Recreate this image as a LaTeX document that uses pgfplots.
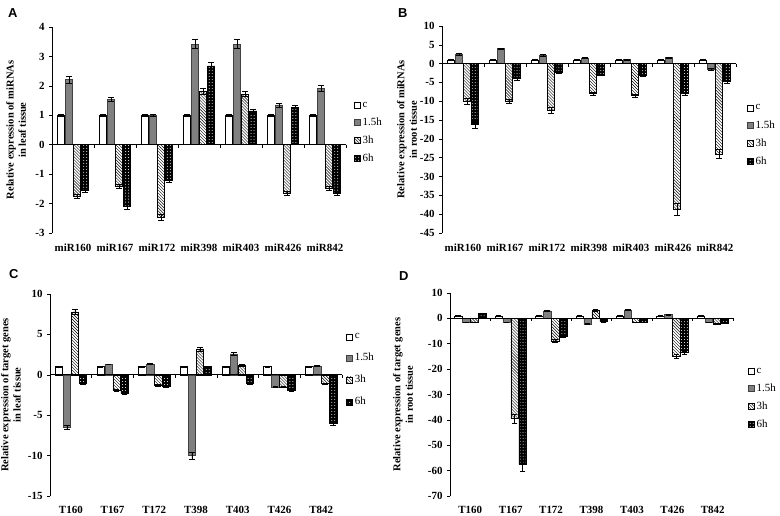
\documentclass[border=0pt]{standalone}
\usepackage{pgfplots}
\pgfplotsset{compat=1.18}
\usepackage{pgfplotstable}
\usepackage{fontspec}
\setmainfont{Liberation Serif}
\newfontfamily\panelfont{Liberation Sans}
\usetikzlibrary{patterns}

\pgfplotstableread{
x c ce a ae b be d de
0 1 0.04 2.22 0.12 -1.75 0.07 -1.55 0.06
1 1 0.04 1.55 0.07 -1.40 0.07 -2.10 0.09
2 1 0.04 1.00 0.03 -2.45 0.10 -1.22 0.05
3 1 0.04 3.42 0.15 1.82 0.09 2.68 0.13
4 1 0.04 3.42 0.15 1.72 0.08 1.15 0.06
5 1 0.04 1.35 0.07 -1.65 0.07 1.28 0.05
6 1 0.04 1.92 0.10 -1.48 0.06 -1.65 0.06
}\tabA
\pgfplotstableread{
x c ce a ae b be d de
0 1 0.1 2.5 0.2 -10.0 0.7 -16.2 0.9
1 1 0.1 4.0 0.2 -10.0 0.5 -4.0 0.3
2 1 0.1 2.2 0.2 -12.5 0.8 -2.2 0.3
3 1 0.1 1.5 0.1 -8.0 0.4 -3.0 0.2
4 1 0.1 1.1 0.1 -8.5 0.4 -3.0 0.3
5 1 0.1 1.6 0.2 -38.8 1.6 -8.0 0.5
6 1 0.1 -1.5 0.2 -24.0 1.2 -4.8 0.3
}\tabB
\pgfplotstableread{
x c ce a ae b be d de
0 1 0.05 -6.5 0.3 7.8 0.35 -1.1 0.1
1 1 0.05 1.3 0.05 -1.9 0.1 -2.3 0.1
2 1 0.05 1.35 0.1 -1.3 0.1 -1.4 0.1
3 1 0.05 -10.0 0.45 3.2 0.25 1.0 0.05
4 1 0.05 2.6 0.2 1.2 0.1 -1.1 0.1
5 1 0.05 -1.5 0.05 -1.5 0.05 -1.9 0.1
6 1 0.05 1.1 0.05 -1.1 0.05 -6.0 0.25
}\tabC
\pgfplotstableread{
x c ce a ae b be d de
0 1 0.1 -1.5 0.1 -1.5 0.1 2.0 0.2
1 1 0.1 -1.5 0.1 -39.5 1.8 -57.5 2.8
2 1 0.1 3.0 0.2 -9.0 0.6 -7.0 0.3
3 1 0.1 -2.3 0.2 3.2 0.2 -1.3 0.2
4 1 0.1 3.3 0.2 -1.5 0.1 -1.5 0.1
5 1 0.1 1.5 0.1 -14.8 0.8 -13.5 0.5
6 1 0.1 -1.5 0.1 -2.3 0.2 -1.8 0.2
}\tabD

\pgfplotsset{
  panel/.style={
    scale only axis, anchor=south west, clip=false,
    axis y line=left, axis x line=bottom,
    axis line style={-, line width=0.8pt},
    x axis line style={draw=none},
    ybar=0.6bp, bar width=7.4bp,
    xmin=-0.5, xmax=6.5,
    xtick={0,...,6},
    x tick style={draw=none},
    y tick style={black, line width=0.6pt},
    tick align=outside, major tick length=3bp,
    tick label style={font=\bfseries\fontsize{11}{13}\selectfont},
    yticklabel style={xshift=-1bp},
    xticklabel style={yshift=-4bp},
    /pgf/number format/assume math mode=true,
    legend style={draw=none, fill=none, inner sep=0pt, anchor=north west,
      font=\fontsize{11}{13}\selectfont, row sep=5bp, cells={anchor=west}},
    legend image code/.code={\draw[##1,line width=0.5pt] (0bp,-3bp) rectangle (6bp,3bp);},
    error bars/y dir=both, error bars/y explicit,
    error bars/error bar style={black, line width=0.5pt, solid},
    error bars/error mark options={black, mark size=2.8bp, line width=0.5pt, rotate=90},
  },
  ylab/.style={every axis y label/.style={at={(axis description cs:#1,0.5)}, rotate=90,
      anchor=center, align=center, font=\bfseries\fontsize{10.5}{12.5}\selectfont}},
  sc/.style={draw=black, fill=white, line width=0.5pt},
  s15/.style={draw=black!75, fill=black!50, line width=0.5pt},
  s3/.style={draw=black, fill=white, line width=0.5pt, postaction={pattern=north west lines, pattern color=black}},
  s6/.style={draw=black, fill=black, line width=0.5pt, postaction={pattern=dots, pattern color=white}},
}

\newcommand{\zeroline}{%
  \draw[line width=0.8pt] (axis cs:-0.5,0) -- (axis cs:6.5,0);
  \pgfplotsinvokeforeach{0.5,1.5,2.5,3.5,4.5,5.5,6.5}{\draw[line width=0.6pt] (axis cs:##1,0) -- ([yshift=-3bp]axis cs:##1,0);}
}

\begin{document}
\begin{tikzpicture}
\path[use as bounding box] (0,0) rectangle (780bp,516bp);

% Panel A
\begin{axis}[panel, at={(52bp,283bp)}, width=294bp, height=206bp,
  ymin=-3, ymax=4, ytick={-3,...,4},
  xticklabels={miR160,miR167,miR172,miR398,miR403,miR426,miR842},
  ylab=-0.122, ylabel={Relative expression of miRNAs\\in leaf tissue},
  legend style={at={(axis description cs:1.027,0.645)}}]
\addplot[sc] table[x=x,y=c,y error=ce]{\tabA};
\addplot[s15] table[x=x,y=a,y error=ae]{\tabA};
\addplot[s3] table[x=x,y=b,y error=be]{\tabA};
\addplot[s6] table[x=x,y=d,y error=de]{\tabA};
\legend{c,1.5h,3h,6h}
\zeroline
\end{axis}

% Panel B
\begin{axis}[panel, at={(442bp,283bp)}, width=294bp, height=207bp,
  ymin=-45, ymax=10, ytick={-45,-40,...,10},
  xticklabels={miR160,miR167,miR172,miR398,miR403,miR426,miR842},
  ylab=-0.119, ylabel={Relative expression of miRNAs\\in root tissue},
  legend style={at={(axis description cs:1.037,0.63)}}]
\addplot[sc] table[x=x,y=c,y error=ce]{\tabB};
\addplot[s15] table[x=x,y=a,y error=ae]{\tabB};
\addplot[s3] table[x=x,y=b,y error=be]{\tabB};
\addplot[s6] table[x=x,y=d,y error=de]{\tabB};
\legend{c,1.5h,3h,6h}
\zeroline
\end{axis}

% Panel C
\begin{axis}[panel, at={(50bp,20bp)}, width=292bp, height=202bp,
  ymin=-15, ymax=10, ytick={-15,-10,...,10},
  xticklabels={T160,T167,T172,T398,T403,T426,T842},
  ylab=-0.134, ylabel={Relative expression of target genes\\in leaf tissue},
  legend style={at={(axis description cs:1.014,0.815)}, row sep=9bp}]
\addplot[sc] table[x=x,y=c,y error=ce]{\tabC};
\addplot[s15] table[x=x,y=a,y error=ae]{\tabC};
\addplot[s3] table[x=x,y=b,y error=be]{\tabC};
\addplot[s6] table[x=x,y=d,y error=de]{\tabC};
\legend{c,1.5h,3h,6h}
\zeroline
\end{axis}

% Panel D
\begin{axis}[panel, at={(450bp,20bp)}, width=283bp, height=203bp,
  ymin=-70, ymax=10, ytick={-70,-60,...,10},
  xticklabels={T160,T167,T172,T398,T403,T426,T842},
  ylab=-0.166, ylabel={Relative expression of target genes\\in root tissue},
  legend style={at={(axis description cs:1.053,0.64)}}]
\addplot[sc] table[x=x,y=c,y error=ce]{\tabD};
\addplot[s15] table[x=x,y=a,y error=ae]{\tabD};
\addplot[s3] table[x=x,y=b,y error=be]{\tabD};
\addplot[s6] table[x=x,y=d,y error=de]{\tabD};
\legend{c,1.5h,3h,6h}
\zeroline
\end{axis}

\node[anchor=north west, inner sep=0pt, font=\panelfont\bfseries\fontsize{13}{14}\selectfont] at (8bp,508bp) {A};
\node[anchor=north west, inner sep=0pt, font=\panelfont\bfseries\fontsize{13}{14}\selectfont] at (398bp,508bp) {B};
\node[anchor=north west, inner sep=0pt, font=\panelfont\bfseries\fontsize{13}{14}\selectfont] at (9bp,247bp) {C};
\node[anchor=north west, inner sep=0pt, font=\panelfont\bfseries\fontsize{13}{14}\selectfont] at (399bp,245bp) {D};
\end{tikzpicture}
\end{document}
